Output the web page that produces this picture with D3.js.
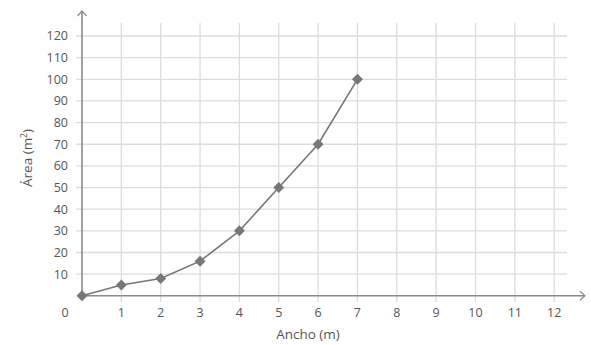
<!DOCTYPE html>
<html><head><meta charset="utf-8">
<script src="https://cdn.jsdelivr.net/npm/d3@7"></script>
<style>body{margin:0;background:#fff}svg{display:block}text{font-family:"Open Sans",sans-serif;fill:#555}</style>
</head><body><svg id="c" width="591" height="345"></svg>
<script>
const widths = [0,1,2,3,4,5,6,7];
const areas = [0,5,8,16,30,50,70,100];
const xTicks = [1,2,3,4,5,6,7,8,9,10,11,12];
const yTicks = [10,20,30,40,50,60,70,80,90,100,110,120];
const xTitle = "Ancho (m)";

const svg = d3.select("#c");
const x = d3.scaleLinear().domain([0,12]).range([82,554.2]);
const y = d3.scaleLinear().domain([0,120]).range([295.8,36]);
const gridCol = "#dcdcdc", axisCol = "#8a8a8a", markCol = "#777";

// grid
svg.append("g").selectAll("line").data(yTicks).join("line")
  .attr("x1",76).attr("x2",567).attr("y1",d=>y(d)).attr("y2",d=>y(d))
  .attr("stroke",gridCol).attr("stroke-width",1.3);
svg.append("g").selectAll("line").data(xTicks).join("line")
  .attr("x1",d=>x(d)).attr("x2",d=>x(d)).attr("y1",23).attr("y2",302)
  .attr("stroke",gridCol).attr("stroke-width",1.3);

// axes
svg.append("line").attr("x1",x(0)).attr("x2",585).attr("y1",y(0)).attr("y2",y(0)).attr("stroke",axisCol).attr("stroke-width",1.6);
svg.append("line").attr("x1",x(0)).attr("x2",x(0)).attr("y1",y(0)).attr("y2",11).attr("stroke",axisCol).attr("stroke-width",1.6);
svg.append("path").attr("d",`M${580},${y(0)-4.5}L585,${y(0)}L${580},${y(0)+4.5}`).attr("fill","none").attr("stroke",axisCol).attr("stroke-width",1.2);
svg.append("path").attr("d",`M${x(0)-4.5},16L${x(0)},11L${x(0)+4.5},16`).attr("fill","none").attr("stroke",axisCol).attr("stroke-width",1.2);

// tick labels
svg.append("g").selectAll("text").data(yTicks).join("text")
  .attr("x",68).attr("y",d=>y(d)).attr("dy","0.35em").attr("text-anchor","end")
  .attr("font-size",12.5).text(d=>d);
svg.append("g").selectAll("text").data(xTicks).join("text")
  .attr("x",d=>x(d)).attr("y",312.5).attr("dy","0.35em").attr("text-anchor","middle")
  .attr("font-size",12.5).text(d=>d);
svg.append("text").attr("x",65).attr("y",312.5).attr("dy","0.35em").attr("text-anchor","middle").attr("font-size",12.5).text("0");

// titles
svg.append("text").attr("x",308).attr("y",334.5).attr("dy","0.35em").attr("text-anchor","middle").attr("font-size",13.5).text(xTitle);
const yt = svg.append("text").attr("transform","translate(32,158) rotate(-90)").attr("text-anchor","middle").attr("font-size",13.5);
yt.append("tspan").text("Área (m");
yt.append("tspan").attr("font-size",8.5).attr("dy",-5).text("2");
yt.append("tspan").attr("dy",5).text(")");

// line + markers
const pts = widths.map((w,i)=>[w,areas[i]]);
svg.append("path").datum(pts).attr("fill","none").attr("stroke",markCol).attr("stroke-width",1.6)
  .attr("d",d3.line().x(d=>x(d[0])).y(d=>y(d[1])));
svg.append("g").selectAll("path").data(pts).join("path")
  .attr("transform",d=>`translate(${x(d[0])},${y(d[1])}) rotate(45)`)
  .attr("d",d3.symbol(d3.symbolSquare,60)()).attr("fill",markCol);
</script></body></html>
